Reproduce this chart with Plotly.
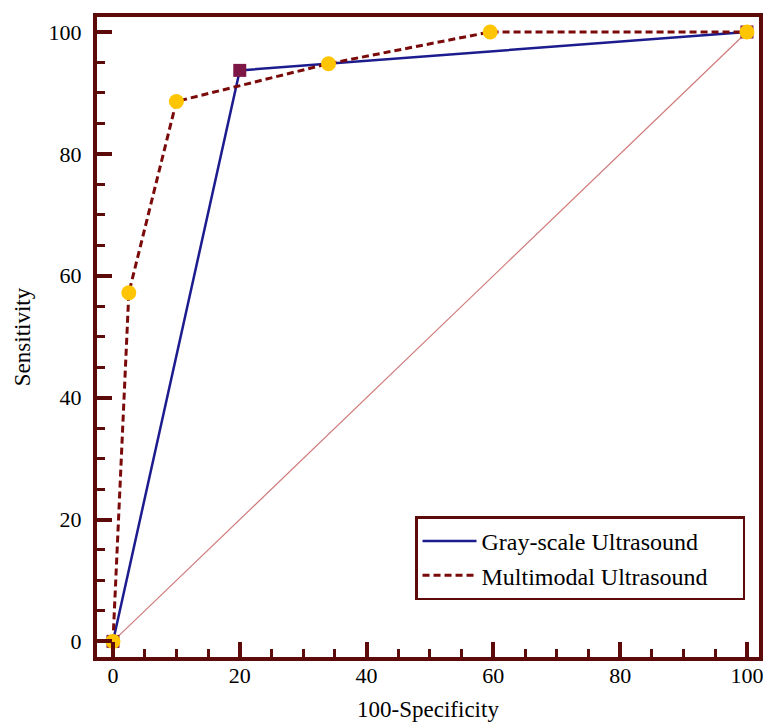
import plotly.graph_objects as go

# Data
gray_x = [0, 20, 100]
gray_y = [0, 93.7, 100]
multi_x = [0, 2.5, 10, 34, 59.5, 100]
multi_y = [0, 57.2, 88.6, 94.8, 100, 100]
diag_x = [0, 100]
diag_y = [0, 100]
tick_vals = [0, 20, 40, 60, 80, 100]
series_names = ["Gray-scale Ultrasound", "Multimodal Ultrasound"]

AX = "#5c0a0a"
FONT = "Liberation Serif, Times New Roman, serif"
PAD = "\u00a0" * 5

fig = go.Figure()
fig.add_trace(go.Scatter(x=diag_x, y=diag_y, mode="lines",
                         line=dict(color="#d07a7a", width=1.2), showlegend=False, hoverinfo="skip"))
fig.add_trace(go.Scatter(x=gray_x, y=gray_y, mode="lines", name=series_names[0] + PAD,
                         line=dict(color="#1c1c8e", width=2.5)))
fig.add_trace(go.Scatter(x=multi_x, y=multi_y, mode="lines", name=series_names[1] + PAD,
                         line=dict(color="#7a0a0a", width=3, dash="7px,4px")))
fig.add_trace(go.Scatter(x=gray_x, y=gray_y, mode="markers", showlegend=False,
                         marker=dict(symbol="square", size=13, color="#7d1846")))
fig.add_trace(go.Scatter(x=multi_x, y=multi_y, mode="markers", showlegend=False,
                         marker=dict(symbol="circle", size=15, color="#ffc500")))

axis_common = dict(
    showline=True, linecolor=AX, linewidth=4, mirror=True,
    ticks="inside", ticklen=15, tickwidth=3.5, tickcolor=AX,
    tickvals=tick_vals, showgrid=False, zeroline=False, automargin=False,
    tickfont=dict(family=FONT, size=22, color="black"),
    minor=dict(dtick=5, ticks="inside", ticklen=8, tickwidth=2.5, tickcolor=AX, showgrid=False),
)

fig.update_xaxes(range=[-2.52, 101.9],
                 title=dict(text="100-Specificity", font=dict(family=FONT, size=23, color="black"), standoff=14),
                 ticklabelstandoff=-4, **axis_common)
fig.update_yaxes(range=[-2.56, 102.46],
                 title=dict(text="Sensitivity", font=dict(family=FONT, size=23, color="black"), standoff=13),
                 ticklabelstandoff=7, **axis_common)

fig.update_layout(
    width=766, height=724,
    margin=dict(l=97, r=7, t=17, b=67, autoexpand=False),
    plot_bgcolor="white", paper_bgcolor="white",
    legend=dict(x=0.4804, y=0.154, xanchor="left", yanchor="middle",
                bordercolor=AX, borderwidth=2.5, bgcolor="white",
                font=dict(family=FONT, size=24, color="black"),
                tracegroupgap=0, itemwidth=54),
)

fig.write_html("out.html", config={"displayModeBar": False},
               post_script="document.body.style.margin='0';")
